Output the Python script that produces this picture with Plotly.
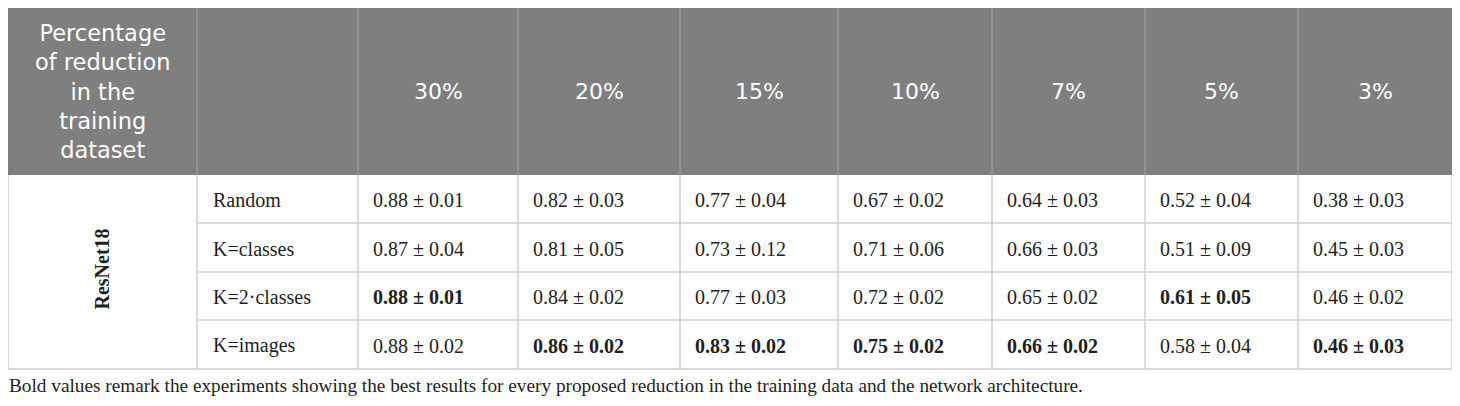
import plotly.graph_objects as go

# ---------------- data ----------------
reductions = ["30%", "20%", "15%", "10%", "7%", "5%", "3%"]
methods = ["Random", "K=classes", "K=2·classes", "K=images"]
network = "ResNet18"
header_label = ["Percentage", "of reduction", "in the", "training", "dataset"]
means = [
    [0.88, 0.82, 0.77, 0.67, 0.64, 0.52, 0.38],
    [0.87, 0.81, 0.73, 0.71, 0.66, 0.51, 0.45],
    [0.88, 0.84, 0.77, 0.72, 0.65, 0.61, 0.46],
    [0.88, 0.86, 0.83, 0.75, 0.66, 0.58, 0.46],
]
stds = [
    [0.01, 0.03, 0.04, 0.02, 0.03, 0.04, 0.03],
    [0.04, 0.05, 0.12, 0.06, 0.03, 0.09, 0.03],
    [0.01, 0.02, 0.03, 0.02, 0.02, 0.05, 0.02],
    [0.02, 0.02, 0.02, 0.02, 0.02, 0.04, 0.03],
]
best = [
    [0, 0, 0, 0, 0, 0, 0],
    [0, 0, 0, 0, 0, 0, 0],
    [1, 0, 0, 0, 0, 1, 0],
    [0, 1, 1, 1, 1, 0, 1],
]
caption = ("Bold values remark the experiments showing the best results for every proposed "
           "reduction in the training data and the network architecture.")

# ---------------- layout geometry (page pixel coordinates) ----------------
PAGE_W, PAGE_H = 1460, 406
OFF = 8  # default body margin of the html page
x_edges = [8, 197, 358, 518, 680, 838, 992, 1145, 1298, 1452]
y_edges = [8, 175, 223, 272, 320, 369]
HEADER_BG = "#7f7f7f"
GRID = "#cfcfcf"
HEADER_SEP = "#a3a3a3"
TEXT = "#231f20"
SANS = "DejaVu Sans"
SERIF = "Liberation Serif"

fig = go.Figure()
fig.add_trace(go.Scatter(x=[OFF, PAGE_W], y=[OFF, PAGE_H], mode="markers",
                         marker=dict(opacity=0), hoverinfo="skip", showlegend=False))

shapes = []
shapes.append(dict(type="rect", xref="x", yref="y", x0=x_edges[0], x1=x_edges[-1],
                   y0=y_edges[0], y1=y_edges[1], fillcolor=HEADER_BG, line=dict(width=0), layer="below"))
for xe in x_edges[1:-1]:
    shapes.append(dict(type="line", xref="x", yref="y", x0=xe, x1=xe, y0=y_edges[0], y1=y_edges[1],
                       line=dict(color=HEADER_SEP, width=1)))
for ye in y_edges[2:-1]:
    shapes.append(dict(type="line", xref="x", yref="y", x0=x_edges[1], x1=x_edges[-1], y0=ye, y1=ye,
                       line=dict(color=GRID, width=1.5)))
shapes.append(dict(type="line", xref="x", yref="y", x0=x_edges[0], x1=x_edges[-1],
                   y0=y_edges[-1], y1=y_edges[-1], line=dict(color=GRID, width=1.5)))
for xe in x_edges:
    shapes.append(dict(type="line", xref="x", yref="y", x0=xe, x1=xe, y0=y_edges[1], y1=y_edges[-1],
                       line=dict(color=GRID, width=1.5)))

ann = []
hc_x = (x_edges[0] + x_edges[1]) / 2
hc_y = (y_edges[0] + y_edges[1]) / 2
ann.append(dict(x=hc_x, y=hc_y, xref="x", yref="y", text="<br>".join(header_label),
                showarrow=False, xanchor="center", yanchor="middle", align="center",
                font=dict(family=SANS, size=22.5, color="white")))
for j, r in enumerate(reductions):
    ann.append(dict(x=(x_edges[j + 2] + x_edges[j + 3]) / 2, y=hc_y, xref="x", yref="y", text=r,
                    showarrow=False, xanchor="center", yanchor="middle",
                    font=dict(family=SANS, size=22, color="white")))
ann.append(dict(x=hc_x - 1, y=269, xref="x", yref="y",
                text="<b>" + network + "</b>", textangle=-90, showarrow=False,
                xanchor="center", yanchor="middle", font=dict(family=SERIF, size=20, color=TEXT)))
for i, m in enumerate(methods):
    yc = (y_edges[i + 1] + y_edges[i + 2]) / 2 + 1
    ann.append(dict(x=x_edges[1] + 14, y=yc, xref="x", yref="y", text=m, showarrow=False,
                    xanchor="left", yanchor="middle", font=dict(family=SERIF, size=20, color=TEXT)))
    for j in range(len(reductions)):
        s = f"{means[i][j]:.2f} ± {stds[i][j]:.2f}"
        if best[i][j]:
            s = "<b>" + s + "</b>"
        ann.append(dict(x=x_edges[j + 2] + 13, y=yc, xref="x", yref="y", text=s, showarrow=False,
                        xanchor="left", yanchor="middle", font=dict(family=SERIF, size=20, color=TEXT)))
ann.append(dict(x=OFF, y=385, xref="x", yref="y", text=caption, showarrow=False, borderpad=0,
                xanchor="left", yanchor="middle", font=dict(family=SERIF, size=19.25, color=TEXT)))

fig.update_layout(
    width=PAGE_W - OFF, height=PAGE_H - OFF, margin=dict(l=0, r=0, t=0, b=0),
    paper_bgcolor="white", plot_bgcolor="white",
    xaxis=dict(range=[OFF, PAGE_W], visible=False, fixedrange=True),
    yaxis=dict(range=[PAGE_H, OFF], visible=False, fixedrange=True),
    shapes=shapes, annotations=ann, showlegend=False,
)
fig.write_html("out.html")
